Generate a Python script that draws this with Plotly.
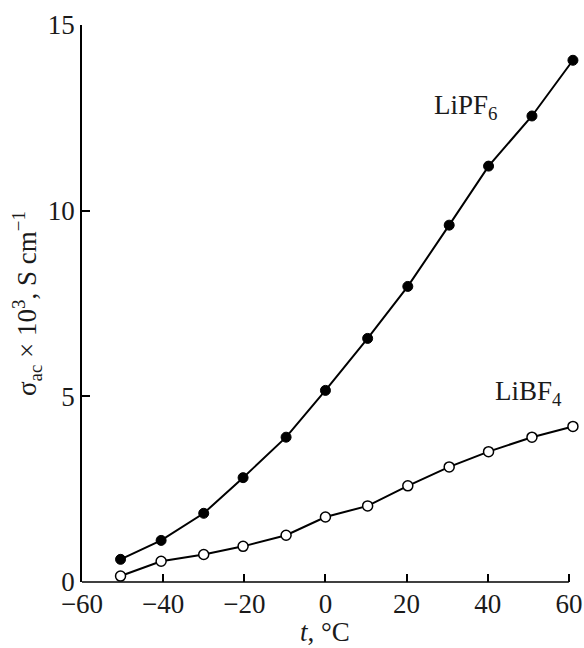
import plotly.graph_objects as go

temp_pf6 = [-50.5, -40.5, -30, -20.3, -9.7, 0, 10.4, 20.3, 30.5, 40.2, 50.9, 61]
sigma_pf6 = [0.61, 1.12, 1.85, 2.81, 3.90, 5.16, 6.56, 7.96, 9.61, 11.2, 12.55, 14.05]

temp_bf4 = [-50.5, -40.5, -30, -20.3, -9.7, 0, 10.4, 20.3, 30.5, 40.2, 50.9, 61]
sigma_bf4 = [0.16, 0.56, 0.74, 0.96, 1.26, 1.75, 2.05, 2.59, 3.10, 3.51, 3.90, 4.19]

x_ticks = [-60, -40, -20, 0, 20, 40, 60]
x_tick_labels = ["−60", "−40", "−20", "0", "20", "40", "60"]
y_ticks = [0, 5, 10, 15]

FONT = "Liberation Serif"
FS = 27
INK = "#1a1a1a"

fig = go.Figure()
fig.add_trace(go.Scatter(
    x=temp_pf6, y=sigma_pf6, mode="lines+markers", name="LiPF6",
    line=dict(color="black", width=2),
    marker=dict(symbol="circle", size=10, color="black", line=dict(color="black", width=1)),
    cliponaxis=False, showlegend=False))
fig.add_trace(go.Scatter(
    x=temp_bf4, y=sigma_bf4, mode="lines+markers", name="LiBF4",
    line=dict(color="black", width=2),
    marker=dict(symbol="circle", size=10, color="white", line=dict(color="black", width=1.5)),
    cliponaxis=False, showlegend=False))

fig.add_annotation(x=34.5, y=12.8, text="LiPF<sub>6</sub>", showarrow=False,
                   font=dict(family=FONT, size=FS, color=INK))
fig.add_annotation(x=50, y=5.1, text="LiBF<sub>4</sub>", showarrow=False,
                   font=dict(family=FONT, size=FS, color=INK))

# axis titles
fig.add_annotation(xref="paper", yref="paper", x=-0.112, y=0.5, xanchor="center", yanchor="middle",
                   textangle=-90,
                   text="σ<sub>ac</sub> × 10<sup>3</sup>, S cm<sup>−1</sup>", showarrow=False,
                   font=dict(family=FONT, size=FS, color=INK))
fig.add_annotation(xref="x", yref="paper", x=0, y=-0.09, yanchor="middle",
                   text="<i>t</i>, °C", showarrow=False,
                   font=dict(family=FONT, size=FS, color=INK))

# bottom axis line spanning the tick range only
fig.add_shape(type="line", xref="x", yref="paper", x0=-60, x1=60, y0=0, y1=0,
              line=dict(color="black", width=1.5))

fig.update_layout(
    width=584, height=648,
    margin=dict(l=82, r=7, t=25, b=66),
    paper_bgcolor="white", plot_bgcolor="white",
    font=dict(family=FONT, size=FS, color=INK),
    xaxis=dict(range=[-60, 62], tickvals=x_ticks, ticktext=x_tick_labels,
               ticks="inside", ticklen=8, tickwidth=1.5, tickcolor="black",
               ticklabelstandoff=3,
               showline=False, automargin=False,
               showgrid=False, zeroline=False),
    yaxis=dict(range=[0, 15], tickvals=y_ticks,
               ticks="inside", ticklen=8, tickwidth=1.5, tickcolor="black",
               showline=True, linecolor="black", linewidth=1.5, automargin=False,
               showgrid=False, zeroline=False),
)

fig.write_html("out.html", config={"displayModeBar": False},
               post_script="document.body.style.margin='0';document.body.style.overflow='hidden';")
